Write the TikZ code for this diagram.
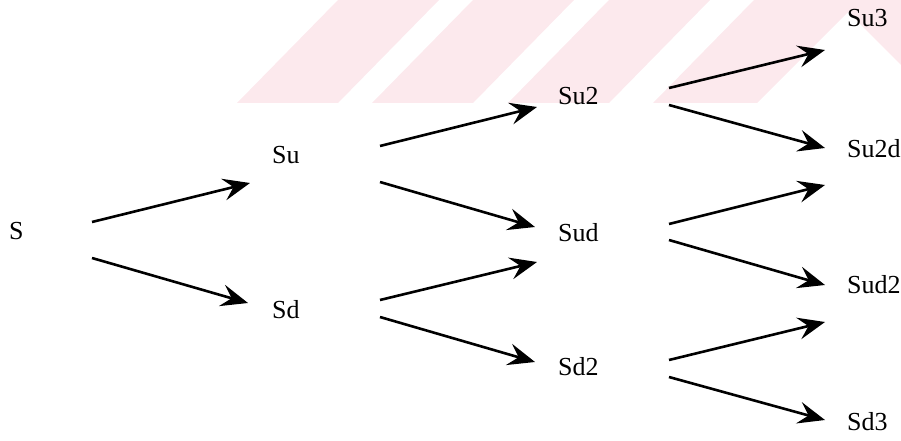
\documentclass[tikz,border=0pt]{standalone}
\usepackage{fontspec}
\setmainfont{Liberation Serif}
\usetikzlibrary{arrows.meta}
\definecolor{wm}{RGB}{252,233,237}
\tikzset{
  lbl/.style={anchor=base west, inner sep=0pt, font=\fontsize{26}{30}\selectfont},
  arr/.style={line width=2.6pt, -{Stealth[length=27pt,width=22pt,inset=10pt]}},
  wmark/.style={fill=wm, draw=none}
}
\begin{document}
\begin{tikzpicture}[x=1pt,y=-1pt]
\useasboundingbox (0,0) rectangle (901,441);
% watermark
\fill[wmark] (237,103) -- (338,103) -- (439,0) -- (338,0) -- cycle;
\fill[wmark] (372,103) -- (473,103) -- (574,0) -- (473,0) -- cycle;
\fill[wmark] (508,103) -- (609,103) -- (710,0) -- (609,0) -- cycle;
\fill[wmark] (653,103) -- (757,103) -- (848,12) -- (901,65) -- (901,0) -- (754,0) -- cycle;
% labels
\node[lbl] (S) at (9,239) {S};
\node[lbl] (Su) at (272,163) {Su};
\node[lbl] (Sd) at (272,318) {Sd};
\node[lbl] (Su2) at (558,105) {Su2};
\node[lbl] (Sud) at (558,241) {Sud};
\node[lbl] (Sd2) at (558,375) {Sd2};
\node[lbl] (Su3) at (847,27) {Su3};
\node[lbl] (Su2d) at (847,157) {Su2d};
\node[lbl] (Sud2) at (847,293) {Sud2};
\node[lbl] (Sd3) at (847,430) {Sd3};
% arrows
\draw[arr] ([shift={(83,-17)}]S.base west) -- ([shift={(-22,20)}]Su.base west);
\draw[arr] ([shift={(83,19)}]S.base west) -- ([shift={(-24,-15)}]Sd.base west);
\draw[arr] ([shift={(108,-17)}]Su.base west) -- ([shift={(-21,2)}]Su2.base west);
\draw[arr] ([shift={(108,19)}]Su.base west) -- ([shift={(-23,-14)}]Sud.base west);
\draw[arr] ([shift={(108,-18)}]Sd.base west) -- ([shift={(-21,21)}]Sud.base west);
\draw[arr] ([shift={(108,-1)}]Sd.base west) -- ([shift={(-23,-13)}]Sd2.base west);
\draw[arr] ([shift={(111,-17)}]Su2.base west) -- ([shift={(-22,23)}]Su3.base west);
\draw[arr] ([shift={(111,0)}]Su2.base west) -- ([shift={(-22,-9)}]Su2d.base west);
\draw[arr] ([shift={(111,-17)}]Sud.base west) -- ([shift={(-22,28)}]Su2d.base west);
\draw[arr] ([shift={(111,-1)}]Sud.base west) -- ([shift={(-22,-8)}]Sud2.base west);
\draw[arr] ([shift={(111,-15)}]Sd2.base west) -- ([shift={(-22,29)}]Sud2.base west);
\draw[arr] ([shift={(111,2)}]Sd2.base west) -- ([shift={(-22,-10)}]Sd3.base west);
\end{tikzpicture}
\end{document}
